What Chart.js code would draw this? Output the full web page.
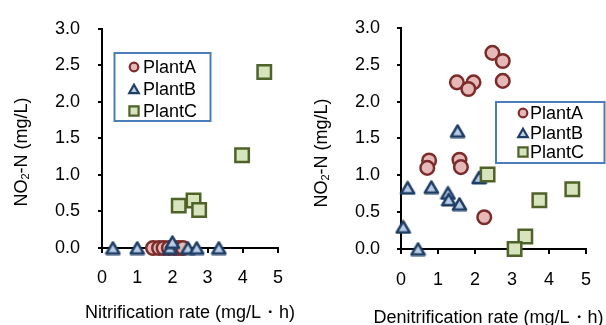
<!DOCTYPE html>
<html>
<head>
<meta charset="utf-8">
<script src="https://cdn.jsdelivr.net/npm/chart.js@4.4.0/dist/chart.umd.min.js"></script>
<style>
  html, body { margin: 0; padding: 0; background: #fff; }
  #wrap { position: relative; width: 606px; height: 325px; overflow: hidden; background: #fff; }
  #wrap canvas { position: absolute; top: 0; }
  #nitri { left: 0; }
  #denitri { left: 300px; }
</style>
</head>
<body>
<div id="wrap">
  <canvas id="nitri" width="300" height="325" style="width:300px;height:325px"></canvas>
  <canvas id="denitri" width="306" height="325" style="width:306px;height:325px"></canvas>
</div>
<script>
// ---- Data: nitrification rate vs NO2-N ----
const nitriA_rate = [1.45, 1.62, 1.75, 1.9, 2.05, 2.18, 2.3];
const nitriA_no2  = [0, 0, 0, 0, 0, 0, 0];
const nitriB_rate = [0.31, 1.0, 1.93, 2.0, 2.44, 2.69, 3.32];
const nitriB_no2  = [0, 0, 0, 0.08, 0, 0, 0];
const nitriC_rate = [2.18, 2.6, 2.76, 3.98, 4.61];
const nitriC_no2  = [0.58, 0.65, 0.52, 1.27, 2.41];

// ---- Data: denitrification rate vs NO2-N ----
const denitriA_rate = [2.47, 2.75, 2.75, 1.51, 1.96, 1.82, 0.76, 0.71, 1.58, 1.62, 2.25];
const denitriA_no2  = [2.66, 2.55, 2.28, 2.26, 2.26, 2.17, 1.2, 1.1, 1.21, 1.11, 0.43];
const denitriB_rate = [1.53, 0.18, 0.82, 1.27, 1.29, 1.58, 2.11, 0.06, 0.46];
const denitriB_no2  = [1.6, 0.83, 0.84, 0.76, 0.67, 0.61, 0.97, 0.3, 0.0];
const denitriC_rate = [2.34, 3.74, 4.63, 3.36, 3.07];
const denitriC_no2  = [1.01, 0.66, 0.81, 0.17, 0.0];

// ---- Axis ticks ----
const xTickValues = [0, 1, 2, 3, 4, 5];
const yTickValues = [0.0, 0.5, 1.0, 1.5, 2.0, 2.5, 3.0];
const seriesNames = ['PlantA', 'PlantB', 'PlantC'];

const FONT = '"Liberation Sans", Arial, sans-serif';
const FS = 18;

// Triangle marker centred on its bounding box
function triangleMarker(w, h, fill, stroke, lw) {
  const c = document.createElement('canvas');
  c.width = w; c.height = h;
  const g = c.getContext('2d');
  const m = lw / 2 + 0.6;
  g.beginPath();
  g.moveTo(w / 2, m);
  g.lineTo(w - m, h - m);
  g.lineTo(m, h - m);
  g.closePath();
  g.fillStyle = fill; g.fill();
  g.lineJoin = 'round';
  g.lineWidth = lw; g.strokeStyle = stroke; g.stroke();
  return c;
}

const styles = [
  { pointStyle: 'circle',   backgroundColor: '#E6B9B8', borderColor: '#7B2C2A', pointRadius: 6.8, legendRadius: 4.3 },
  { pointStyle: 'triangle', backgroundColor: '#B9CDE5', borderColor: '#1F3E66', pointRadius: 7.8, legendRadius: 5.5 },
  { pointStyle: 'rect',     backgroundColor: '#D7E4BD', borderColor: '#4F6228', pointRadius: 9.5, legendRadius: 6.5 }
];
styles[1].marker = triangleMarker(17, 15, styles[1].backgroundColor, styles[1].borderColor, 2.6);

function pairs(xs, ys) { return xs.map((x, i) => ({ x: x, y: ys[i] })); }

// Boxed legend placed inside the plot
const boxLegend = {
  id: 'boxLegend',
  afterDraw(chart, args, o) {
    const ctx = chart.ctx;
    ctx.save();
    ctx.fillStyle = '#fff';
    ctx.fillRect(o.x, o.y, o.w, o.h);
    ctx.strokeStyle = '#4A7EBB';
    ctx.lineWidth = 2;
    ctx.strokeRect(o.x, o.y, o.w, o.h);
    chart.data.datasets.forEach((ds, i) => {
      const st = styles[i];
      const cy = o.rows[i];
      ctx.fillStyle = st.backgroundColor;
      ctx.strokeStyle = st.borderColor;
      ctx.lineWidth = 2.2;
      Chart.helpers.drawPoint(ctx, { pointStyle: st.pointStyle, radius: st.legendRadius, borderWidth: 2.2, rotation: 0 }, o.markerX, cy + (st.pointStyle === 'triangle' ? 1.3 : 0));
      ctx.fillStyle = '#000';
      ctx.font = FS + 'px ' + FONT;
      ctx.textBaseline = 'middle';
      ctx.textAlign = 'left';
      ctx.fillText(ds.label, o.textX, cy + 1);
    });
    ctx.restore();
  }
};

// Axis titles, with a subscript in NO2-N
const axisTitles = {
  id: 'axisTitles',
  afterDraw(chart, args, o) {
    const ctx = chart.ctx;
    ctx.save();
    ctx.fillStyle = '#000';
    ctx.textBaseline = 'middle';
    // x title
    ctx.font = FS + 'px ' + FONT;
    ctx.textAlign = 'center';
    ctx.fillText(o.xText, o.xTitleX, o.xTitleY);
    // y title (rotated)
    ctx.translate(o.yTitleX, o.yTitleY);
    ctx.rotate(-Math.PI / 2);
    const big = FS + 'px ' + FONT;
    const small = Math.round(FS * 0.62) + 'px ' + FONT;
    ctx.font = big; const w1 = ctx.measureText('NO').width;
    ctx.font = small; const w2 = ctx.measureText('2').width;
    ctx.font = big; const w3 = ctx.measureText('-N (mg/L)').width;
    let x = -(w1 + w2 + w3) / 2;
    ctx.textAlign = 'left';
    ctx.font = big; ctx.fillText('NO', x, 0); x += w1;
    ctx.font = small; ctx.fillText('2', x, 4); x += w2;
    ctx.font = big; ctx.fillText('-N (mg/L)', x, 0);
    ctx.restore();
  }
};

function makeChart(id, data, cfg) {
  const datasets = data.map((pts, i) => ({
    label: seriesNames[i],
    data: pts,
    pointStyle: styles[i].marker || styles[i].pointStyle,
    backgroundColor: styles[i].backgroundColor,
    borderColor: styles[i].borderColor,
    pointBackgroundColor: styles[i].backgroundColor,
    pointBorderColor: styles[i].borderColor,
    pointRadius: styles[i].pointRadius,
    pointHoverRadius: styles[i].pointRadius,
    pointBorderWidth: 2.5,
    showLine: false,
    clip: false,
    order: 3 - i
  }));
  const tickFont = { family: FONT, size: FS };
  return new Chart(document.getElementById(id), {
    type: 'scatter',
    data: { datasets: datasets },
    options: {
      responsive: false,
      animation: false,
      devicePixelRatio: 1,
      events: [],
      layout: { padding: { left: 0, top: 22, right: cfg.padRight, bottom: 0 } },
      plugins: {
        legend: { display: false },
        tooltip: { enabled: false },
        boxLegend: cfg.legend,
        axisTitles: cfg.titles
      },
      scales: {
        x: {
          type: 'linear',
          min: xTickValues[0],
          max: xTickValues[xTickValues.length - 1],
          afterBuildTicks: s => { s.ticks = xTickValues.map(v => ({ value: v })); },
          ticks: { color: '#000', font: tickFont, padding: cfg.xPad, callback: v => String(v), maxRotation: 0 },
          grid: { drawOnChartArea: false, drawTicks: true, tickLength: 5, color: '#000', lineWidth: 2 },
          border: { display: true, color: '#000', width: 2 },
          afterFit: s => { s.height = cfg.xAxisHeight; }
        },
        y: {
          type: 'linear',
          min: yTickValues[0],
          max: yTickValues[yTickValues.length - 1],
          afterBuildTicks: s => { s.ticks = yTickValues.map(v => ({ value: v })); },
          ticks: { color: '#000', font: tickFont, padding: cfg.yPad, callback: v => Number(v).toFixed(1) },
          grid: { drawOnChartArea: false, drawTicks: true, tickLength: 4, color: '#000', lineWidth: 2 },
          border: { display: true, color: '#000', width: 2 },
          afterFit: s => { s.width = cfg.yAxisWidth; }
        }
      }
    },
    plugins: [boxLegend, axisTitles]
  });
}

makeChart('nitri', [
  pairs(nitriA_rate, nitriA_no2),
  pairs(nitriB_rate, nitriB_no2),
  pairs(nitriC_rate, nitriC_no2)
], {
  padRight: 22, xAxisHeight: 77, yAxisWidth: 102, xPad: 14, yPad: 18,
  legend: { x: 114.5, y: 53, w: 96, h: 68, markerX: 134, textX: 143, rows: [67, 89, 111] },
  titles: { xText: 'Nitrification rate (mg/L・h)', xTitleX: 190, xTitleY: 313, yTitleX: 22, yTitleY: 152 }
});

makeChart('denitri', [
  pairs(denitriA_rate, denitriA_no2),
  pairs(denitriB_rate, denitriB_no2),
  pairs(denitriC_rate, denitriC_no2)
], {
  padRight: 18, xAxisHeight: 76, yAxisWidth: 101, xPad: 15, yPad: 17,
  legend: { x: 196, y: 102, w: 108.5, h: 61, markerX: 223, textX: 230, rows: [113, 133, 152] },
  titles: { xText: 'Denitrification rate (mg/L・h)', xTitleX: 188.5, xTitleY: 318, yTitleX: 22, yTitleY: 153 }
});
</script>
</body>
</html>
